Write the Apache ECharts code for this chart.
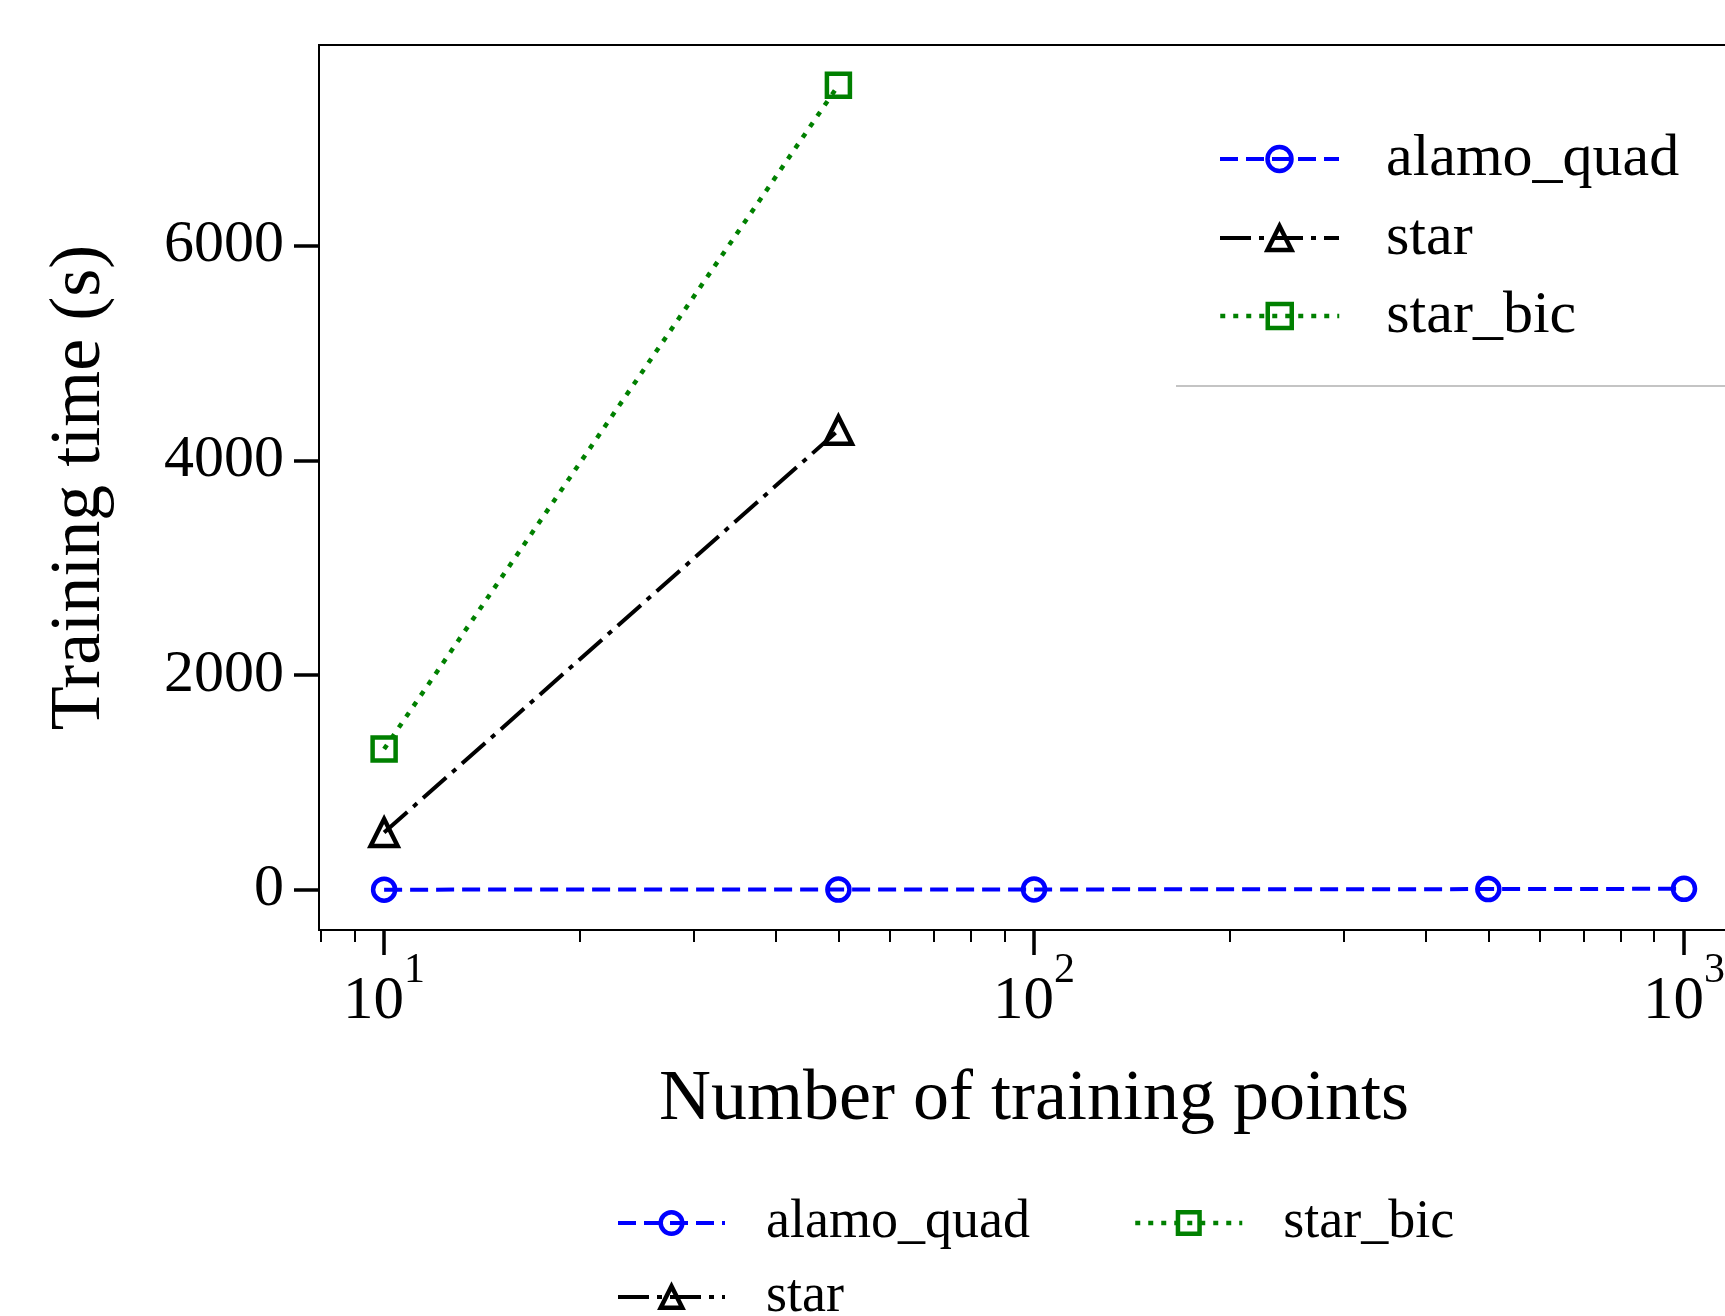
<!DOCTYPE html>
<html>
<head>
<meta charset="utf-8">
<script src="https://cdn.jsdelivr.net/npm/echarts@6/dist/echarts.min.js"></script>
<style>
html,body{margin:0;padding:0;background:#fff;}
#chart{width:1725px;height:1316px;}
</style>
</head>
<body>
<div id="chart"></div>
<script>
// ---- data ----
const trainingPoints = [10, 50, 100, 500, 1000];
const alamoQuad = [1, 2, 3, 6, 9];
const starPoints = [10, 50];
const star = [533, 4280];
const starBic = [1311, 7495];
const xMajorTicks = [10, 100, 1000];
const xMajorExponents = ['1', '2', '3'];
const xMinorTicks = [8, 9, 20, 30, 40, 50, 60, 70, 80, 90, 200, 300, 400, 500, 600, 700, 800, 900];
const yTicks = [0, 2000, 4000, 6000];
const yTickLabels = ['0', '2000', '4000', '6000'];

const FONT = '"Liberation Serif", "Times New Roman", serif';
const BLUE = '#0000ff', BLACK = '#000000', GREEN = '#008000';

function pairs(xs, ys) { return xs.map((x, i) => [x, ys[i]]); }

const styles = {
  alamo_quad: {
    symbol: 'circle', size: 22,
    itemStyle: {color: 'rgba(255,255,255,0)', borderColor: BLUE, borderWidth: 4.5},
    lineStyle: {color: BLUE, width: 4, type: [18, 8], cap: 'butt'}
  },
  star: {
    symbol: 'triangle', size: 27,
    itemStyle: {color: 'rgba(255,255,255,0)', borderColor: BLACK, borderWidth: 4.5},
    lineStyle: {color: BLACK, width: 4, type: [31, 8, 5, 8], cap: 'butt'}
  },
  star_bic: {
    symbol: 'rect', size: 23,
    itemStyle: {color: 'rgba(255,255,255,0)', borderColor: GREEN, borderWidth: 4.5},
    lineStyle: {color: GREEN, width: 4.5, type: [5, 8], cap: 'butt'}
  }
};

function legendItem(name) {
  return {name: name, itemStyle: styles[name].itemStyle, lineStyle: styles[name].lineStyle};
}

function makeLegend(names, left, top, big) {
  return {
    type: 'plain',
    orient: 'horizontal',
    left: left, top: top, height: 80, width: 900,
    padding: 0,
    itemWidth: big ? 119 : 107,
    itemHeight: big ? 30 : 27,
    itemGap: 0,
    data: names.map(legendItem),
    textStyle: {fontFamily: FONT, fontSize: big ? 60 : 54, lineHeight: big ? 60 : 54, color: '#000', padding: [0, 0, 0, big ? 42 : 36]},
    selectedMode: false
  };
}

const chart = echarts.init(document.getElementById('chart'), null, {renderer: 'canvas'});

function mkSeries(name, xs, ys, z) {
  const s = styles[name];
  return {
    type: 'line', name: name,
    data: pairs(xs, ys),
    xAxisIndex: 0, yAxisIndex: 0,
    showAllSymbol: true,
    symbol: s.symbol, symbolSize: s.size,
    itemStyle: s.itemStyle,
    lineStyle: s.lineStyle,
    clip: false, z: z
  };
}

const option = {
  animation: false,
  backgroundColor: '#ffffff',
  grid: {
    left: 319, top: 45, right: -24, bottom: 386,
    outerBoundsMode: 'none',
    containLabel: false,
    show: true, borderColor: '#000', borderWidth: 2, backgroundColor: 'transparent'
  },
  xAxis: [
    {
      type: 'log', logBase: 10, min: 7.94, max: 1259,
      position: 'bottom',
      name: 'Number of training points',
      nameLocation: 'middle', nameGap: 134,
      nameTextStyle: {fontFamily: FONT, fontSize: 72, color: '#000'},
      axisLine: {show: true, onZero: false, lineStyle: {color: '#000', width: 2}},
      axisTick: {show: true, inside: false, length: 25, lineStyle: {color: '#000', width: 3.5}, customValues: xMajorTicks},
      minorTick: {show: false},
      splitLine: {show: false},
      axisLabel: {
        customValues: xMajorTicks,
        margin: 20,
        hideOverlap: false,
        fontFamily: FONT,
        color: '#000',
        formatter: function (v) {
          const i = xMajorTicks.indexOf(v);
          const e = i >= 0 ? xMajorExponents[i] : String(Math.round(Math.log10(v)));
          return '{b|10}{s|' + e + '}';
        },
        rich: {
          b: {fontFamily: FONT, fontSize: 61, lineHeight: 82, verticalAlign: 'bottom', color: '#000'},
          s: {fontFamily: FONT, fontSize: 42, lineHeight: 42, verticalAlign: 'top', color: '#000'}
        }
      }
    },
    {
      type: 'log', logBase: 10, min: 7.94, max: 1259,
      position: 'bottom', offset: 0,
      axisLine: {show: false, onZero: false},
      axisTick: {show: true, inside: false, length: 12, lineStyle: {color: '#000', width: 2}, customValues: xMinorTicks},
      axisLabel: {show: false},
      splitLine: {show: false}
    }
  ],
  yAxis: {
    type: 'value', min: -375, max: 7870,
    name: 'Training time (s)',
    nameLocation: 'middle', nameGap: 203,
    nameTextStyle: {fontFamily: FONT, fontSize: 72, color: '#000'},
    axisLine: {show: true, onZero: false, lineStyle: {color: '#000', width: 2}},
    axisTick: {show: true, inside: false, length: 25, lineStyle: {color: '#000', width: 3.5}, customValues: yTicks},
    axisLabel: {
      customValues: yTicks, margin: 35, fontFamily: FONT, fontSize: 60, color: '#000',
      formatter: function (v) { const i = yTicks.indexOf(v); return i >= 0 ? yTickLabels[i] : String(v); }
    },
    splitLine: {show: false}
  },
  legend: [
    makeLegend(['alamo_quad'], 1218, 129, true),
    makeLegend(['star'], 1218, 208, true),
    makeLegend(['star_bic'], 1218, 286, true),
    makeLegend(['alamo_quad'], 616, 1196, false),
    makeLegend(['star_bic'], 1133, 1196, false),
    makeLegend(['star'], 616, 1270, false)
  ],
  graphic: [
    {type: 'line', shape: {x1: 1176, y1: 386, x2: 1725, y2: 386}, style: {stroke: '#b0b0b0', lineWidth: 1.5}, silent: true}
  ],
  series: [
    mkSeries('alamo_quad', trainingPoints, alamoQuad, 3),
    mkSeries('star', starPoints, star, 2),
    mkSeries('star_bic', starPoints, starBic, 2)
  ]
};

chart.setOption(option);
</script>
</body>
</html>
